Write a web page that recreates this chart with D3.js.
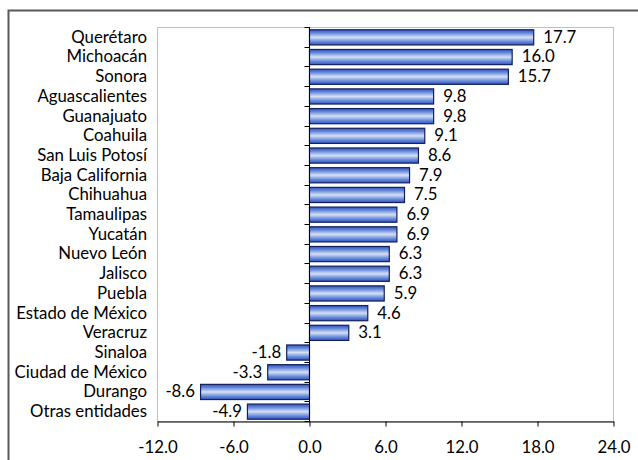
<!DOCTYPE html>
<html>
<head>
<meta charset="utf-8">
<script src="https://cdn.jsdelivr.net/npm/d3@7"></script>
<style>
  html, body { margin: 0; padding: 0; background: #fff; }
  svg { display: block; }
  text { font-family: Lato, "Open Sans", sans-serif; fill: #000; }
</style>
</head>
<body>
<svg id="chart" width="638" height="460"></svg>
<script>
const categories = ["Querétaro", "Michoacán", "Sonora", "Aguascalientes", "Guanajuato", "Coahuila",
  "San Luis Potosí", "Baja California", "Chihuahua", "Tamaulipas", "Yucatán", "Nuevo León",
  "Jalisco", "Puebla", "Estado de México", "Veracruz", "Sinaloa", "Ciudad de México", "Durango",
  "Otras entidades"];
const values = [17.7, 16.0, 15.7, 9.8, 9.8, 9.1, 8.6, 7.9, 7.5, 6.9, 6.9, 6.3, 6.3, 5.9, 4.6, 3.1,
  -1.8, -3.3, -8.6, -4.9];
const xTicks = [-12, -6, 0, 6, 12, 18, 24];

const data = categories.map((c, i) => ({ cat: c, val: values[i] }));
const fmt = v => d3.format(".1f")(v).replace("\u2212", "-");

const svg = d3.select("#chart");
const pL = 157, pR = 613, pT = 27, pB = 421;
const fs = "16.8px";

// outer frame
svg.append("path")
  .attr("d", `M8.5,460 V10.5 H638`)
  .attr("fill", "none").attr("stroke", "#595959").attr("stroke-width", 2);

// plot area border
svg.append("rect")
  .attr("x", pL + 0.5).attr("y", pT + 0.5)
  .attr("width", pR - pL).attr("height", pB - pT)
  .attr("fill", "#fff").attr("stroke", "#bfbfbf").attr("stroke-width", 1);

const x = d3.scaleLinear().domain([xTicks[0], xTicks[xTicks.length - 1]]).range([pL, pR]);
const y = d3.scaleBand().domain(categories).range([pT, pB]).paddingInner(0.23).paddingOuter(0.115);

// gradient
const defs = svg.append("defs");
const grad = defs.append("linearGradient").attr("id", "barGrad")
  .attr("x1", 0).attr("y1", 0).attr("x2", 0).attr("y2", 1);
[[0, "#2f55c4"], [0.2, "#6285d8"], [0.5, "#d5e0f6"], [0.8, "#6285d8"], [1, "#2f55c4"]]
  .forEach(([o, c]) => grad.append("stop").attr("offset", o).attr("stop-color", c));

// bars
svg.append("g").selectAll("rect").data(data).join("rect")
  .attr("x", d => Math.min(x(0), x(d.val)) + 0.5)
  .attr("y", d => y(d.cat) + 0.5)
  .attr("width", d => Math.abs(x(d.val) - x(0)))
  .attr("height", y.bandwidth())
  .attr("fill", "url(#barGrad)")
  .attr("stroke", "#14205a").attr("stroke-width", 1.2);

// value labels
svg.append("g").selectAll("text").data(data).join("text")
  .attr("x", d => d.val >= 0 ? x(d.val) + 10 : x(d.val) - 5)
  .attr("y", d => y(d.cat) + y.bandwidth() / 2)
  .attr("dy", "0.35em")
  .attr("text-anchor", d => d.val >= 0 ? "start" : "end")
  .style("font-size", fs)
  .text(d => fmt(d.val));

// category labels
svg.append("g").selectAll("text").data(data).join("text")
  .attr("x", 147)
  .attr("y", d => y(d.cat) + y.bandwidth() / 2)
  .attr("dy", "0.35em")
  .attr("text-anchor", "end")
  .style("font-size", fs)
  .text(d => d.cat);

// zero axis with category boundary ticks
const bounds = d3.range(categories.length + 1).map(i => pT + i * (pB - pT) / categories.length);
const zx = Math.round(x(0)) + 0.5;
const zg = svg.append("g");
zg.append("line")
  .attr("x1", zx).attr("x2", zx)
  .attr("y1", pT).attr("y2", pB)
  .attr("stroke", "#000").attr("stroke-width", 1);
zg.selectAll("line.t").data(bounds).join("line").attr("class", "t")
  .attr("x1", zx - 5).attr("x2", zx)
  .attr("y1", d => Math.round(d) + 0.5).attr("y2", d => Math.round(d) + 0.5)
  .attr("stroke", "#000").attr("stroke-width", 1);

// bottom axis
const xAxis = d3.axisBottom(x).tickValues(xTicks).tickFormat(fmt).tickSizeInner(5).tickSizeOuter(0).tickPadding(15);
const ag = svg.append("g").attr("transform", `translate(0.5,${pB + 0.5})`).call(xAxis);
ag.select(".domain").attr("stroke", "#000");
ag.selectAll(".tick line").attr("stroke", "#000");
ag.selectAll(".tick text").style("font-size", fs).style("font-family", "Lato, 'Open Sans', sans-serif").attr("fill", "#000");
</script>
</body>
</html>
